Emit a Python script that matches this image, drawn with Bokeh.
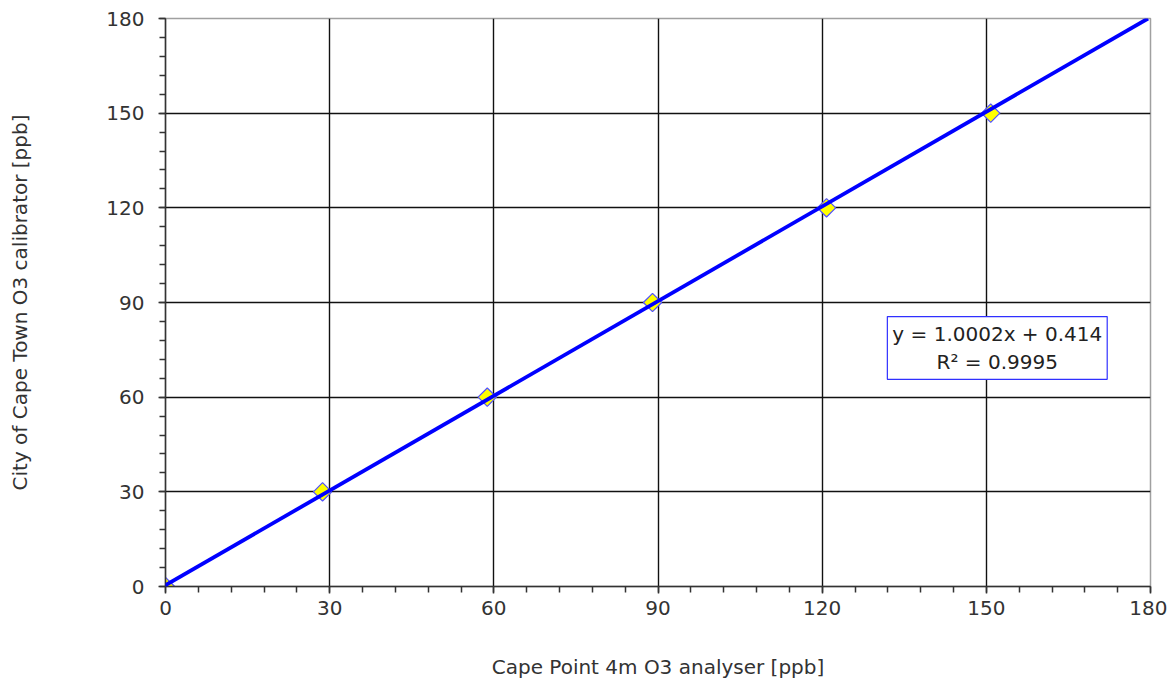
import math
from bokeh.plotting import figure
from bokeh.models import FixedTicker, Slope, Label, Range1d
from bokeh.embed import file_html
from bokeh.resources import INLINE

# data
x_analyser = [0, 28.7, 58.8, 89.0, 120.8, 150.8]
y_calibrator = [0, 30, 60, 90, 120, 150]
major_ticks = [0, 30, 60, 90, 120, 150, 180]
minor_ticks = list(range(0, 181, 6))
fit_slope = 1.0002
fit_intercept = 0.414
fit_text = "y = 1.0002x + 0.414\nR² = 0.9995"
x_label = "Cape Point 4m O3 analyser [ppb]"
y_label = "City of Cape Town O3 calibrator [ppb]"

FONT = "DejaVu Sans"

p = figure(width=1167, height=681, output_backend="svg", toolbar_location=None,
           x_range=Range1d(0, 180), y_range=Range1d(0, 180),
           min_border_left=165, min_border_right=17, min_border_top=18, min_border_bottom=87)

p.background_fill_color = "white"
p.border_fill_color = "white"
p.outline_line_color = "#a0a0a0"
p.outline_line_width = 1.5

for ax, lab in ((p.xaxis[0], x_label), (p.yaxis[0], y_label)):
    ax.ticker = FixedTicker(ticks=major_ticks, minor_ticks=minor_ticks)
    ax.axis_label = lab
    ax.axis_label_text_font = FONT
    ax.axis_label_text_font_size = "20px"
    ax.axis_label_text_font_style = "normal"
    ax.axis_label_text_color = "#333333"
    ax.major_label_text_font = FONT
    ax.major_label_text_font_size = "20px"
    ax.major_label_text_color = "#333333"
    ax.axis_line_color = "#333333"
    ax.axis_line_width = 1.5
    ax.major_tick_line_color = "#333333"
    ax.minor_tick_line_color = "#333333"
    ax.major_tick_line_width = 1.5
    ax.minor_tick_line_width = 1.5
    ax.major_tick_in = 0
    ax.major_tick_out = 7
    ax.minor_tick_in = 0
    ax.minor_tick_out = 6

p.xaxis.major_label_standoff = 7
p.xaxis.axis_label_standoff = 37
p.yaxis.major_label_standoff = 14
p.yaxis.axis_label_standoff = 71

p.xgrid.grid_line_color = "#111111"
p.ygrid.grid_line_color = "#111111"
p.xgrid.grid_line_width = 1.4
p.ygrid.grid_line_width = 1.4

p.scatter(x_analyser, y_calibrator, marker="square", size=13, angle=math.pi / 4,
          fill_color="#ffff00", line_color="#5050ff", line_width=1.2)

p.add_layout(Slope(gradient=fit_slope, y_intercept=fit_intercept,
                   line_color="#0000ff", line_width=3.8))

p.add_layout(Label(x=152.0, y=75.6, text=fit_text, text_font=FONT,
                   text_font_size="20px", text_color="#222222",
                   text_align="center", text_baseline="middle",
                   border_line_color="#3030ff", border_line_width=1.2,
                   background_fill_color="white", padding=5))

open("out.html", "w").write(file_html(p, INLINE))
